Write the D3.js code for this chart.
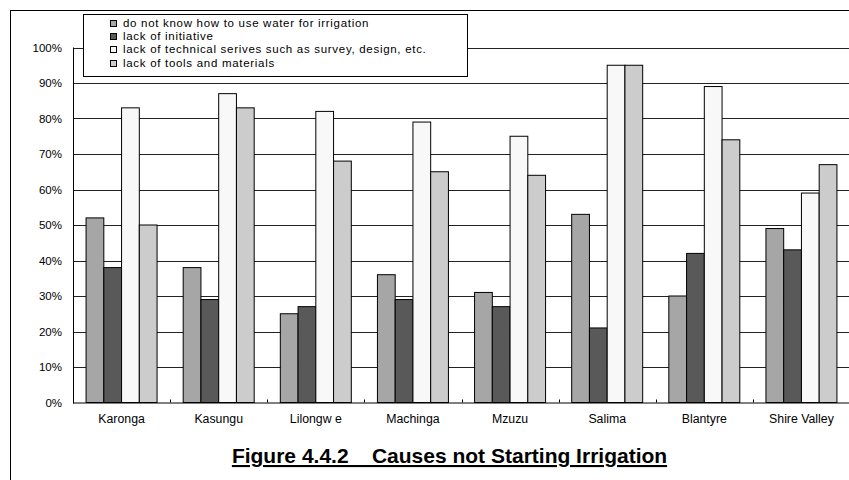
<!DOCTYPE html>
<html><head><meta charset="utf-8">
<script src="https://cdn.jsdelivr.net/npm/d3@7"></script>
<style>body{margin:0;background:#fff}svg{display:block;font-family:Arial,"Liberation Sans",sans-serif}</style>
</head><body><svg id="c" width="849" height="480"></svg>
<script>
const categories = ["Karonga","Kasungu","Lilongw e","Machinga","Mzuzu","Salima","Blantyre","Shire Valley"];
const seriesNames = ["do not know how to use water for irrigation","lack of initiative","lack of technical serives such as survey, design, etc.","lack of tools and materials"];
const dontKnow   = [52,38,25,36,31,53,30,49];
const initiative = [38,29,27,29,27,21,42,43];
const technical  = [83,87,82,79,75,95,89,59];
const tools      = [50,83,68,65,64,95,74,67];
const yTicks = [0,10,20,30,40,50,60,70,80,90,100];
const colors = ["#a6a6a6","#595959","#f8f8f8","#cccccc"];
const title = "Figure 4.4.2    Causes not Starting Irrigation";

const series = [dontKnow, initiative, technical, tools];
const svg = d3.select("#c");
const L = 73, R = 850, T = 47.5, B = 402.5;
const FF = "Arial, 'Liberation Sans', sans-serif";

svg.append("rect").attr("x",10.5).attr("y",10.5).attr("width",900).attr("height",600)
  .attr("fill","none").attr("stroke","#000");

const x = d3.scaleBand().domain(categories).range([L,R]).paddingInner(0.269).paddingOuter(0.1345);
const xs = d3.scaleBand().domain(d3.range(4)).range([0,x.bandwidth()]);
const y = d3.scaleLinear().domain([0,100]).range([B,T]);

// gridlines
svg.append("g").selectAll("line").data(yTicks.filter(d=>d>0)).join("line")
  .attr("x1",L).attr("x2",R).attr("y1",d=>Math.round(y(d))+0.5).attr("y2",d=>Math.round(y(d))+0.5)
  .attr("stroke","#222").attr("stroke-width",1);

// y labels
const ya = svg.append("g").attr("transform",`translate(${L},0)`)
  .call(d3.axisLeft(y).tickValues(yTicks).tickFormat(d=>d+"%").tickSize(0).tickPadding(11));
ya.select(".domain").remove();
ya.selectAll("text").attr("font-size",11.5).attr("font-family",FF).attr("fill","#000");

// bars
const g = svg.append("g");
categories.forEach((c,i)=>{
  g.selectAll(null).data(series.map((s,k)=>({k,v:s[i]}))).join("rect")
    .attr("x",d=>x(c)+xs(d.k)).attr("width",xs.bandwidth())
    .attr("y",d=>y(d.v)).attr("height",d=>B-y(d.v))
    .attr("fill",d=>colors[d.k]).attr("stroke","#000").attr("stroke-width",1);
});

// axes lines
svg.append("line").attr("x1",L+0.5).attr("x2",L+0.5).attr("y1",T).attr("y2",B+1).attr("stroke","#000");
svg.append("line").attr("x1",L).attr("x2",R).attr("y1",B+0.5).attr("y2",B+0.5).attr("stroke","#000");
// x ticks at group boundaries (inside)
const bounds = categories.slice(1).map(c=>x(c)-x.step()*x.paddingInner()/2);
svg.append("g").selectAll("line").data(bounds).join("line")
  .attr("x1",d=>Math.round(d)+0.5).attr("x2",d=>Math.round(d)+0.5).attr("y1",B-3).attr("y2",B)
  .attr("stroke","#000");

// x labels
const xa = svg.append("g").attr("transform",`translate(0,${B})`)
  .call(d3.axisBottom(x).tickSize(0).tickPadding(12));
xa.select(".domain").remove();
xa.selectAll("text").attr("font-size",12.3).attr("font-family",FF).attr("fill","#000");

// legend
const lg = svg.append("g");
lg.append("rect").attr("x",83.5).attr("y",14.5).attr("width",384).attr("height",62).attr("fill","#fff").attr("stroke","#000");
seriesNames.forEach((n,k)=>{
  const cy = 22.8 + k*13.3;
  lg.append("rect").attr("x",110.5).attr("y",Math.round(cy-3)+0.5).attr("width",6).attr("height",6)
    .attr("fill",colors[k]).attr("stroke","#000");
  lg.append("text").attr("x",123).attr("y",cy+3.8).attr("font-size",11.5).attr("letter-spacing",0.7)
    .attr("font-family",FF).text(n);
});

// title
svg.append("text").attr("x",449.5).attr("y",463).attr("text-anchor","middle")
  .attr("font-size",21).attr("font-weight","bold").attr("text-decoration","underline").attr("font-family",FF)
  .style("white-space","pre").attr("xml:space","preserve").text(title);
</script></body></html>
